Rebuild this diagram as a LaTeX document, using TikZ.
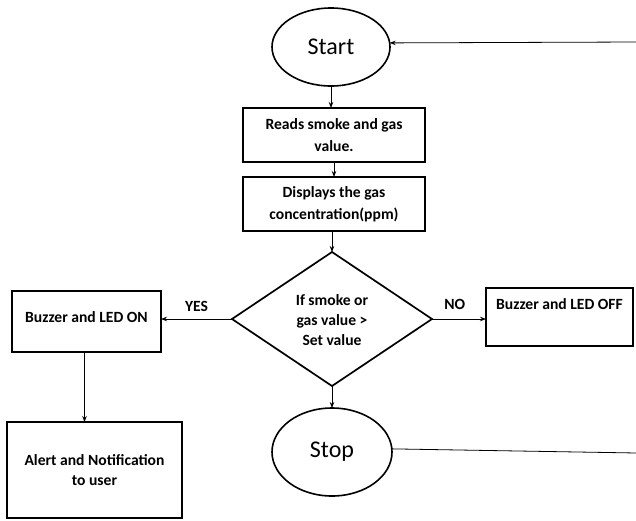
\documentclass[tikz,border=0pt]{standalone}
\usepackage{fontspec}
\setmainfont{Carlito}
\usetikzlibrary{shapes.geometric,arrows.meta}
\begin{document}
\begin{tikzpicture}[x=1pt,y=-1pt,
 every node/.style={inner sep=0pt, outer sep=0pt},
 term/.style={ellipse, draw, line width=1.6pt, font=\fontsize{24}{28}\selectfont},
 proc/.style={rectangle, draw, line width=1.7pt, align=center, font=\bfseries\fontsize{15.6}{22}\selectfont},
 decbox/.style={diamond, draw, line width=1.7pt},
 arr/.style={-{Stealth[length=6pt,width=4.5pt]}, line width=0.8pt},
 lbl/.style={font=\bfseries\fontsize{15.6}{18}\selectfont}
]
\useasboundingbox (0,0) rectangle (636,520);
\node[term, minimum width=118pt, minimum height=78pt] (start) at (331,47) {Start};
\node[proc, minimum width=182pt, minimum height=54pt] (reads) at (334,135) {Reads smoke and gas\\value.};
\node[proc, minimum width=182pt, minimum height=54pt] (disp) at (334,204) {Displays the gas\\concentration(ppm)};
\node[decbox, minimum width=200pt, minimum height=134pt] (dec) at (332,319) {};
\node[align=center, font=\bfseries\fontsize{15.6}{20}\selectfont] (dect) at (332,320) {If smoke or\\gas value >\\Set value};
\node[proc, anchor=north west, minimum width=149pt, text height=31pt, text depth=30pt] (on) at (12,291) {Buzzer and LED ON};
\node[proc, anchor=north west, minimum width=147pt, text height=21pt, text depth=37pt] (off) at (486,288) {Buzzer and LED OFF};
\node[proc, anchor=north west, minimum width=175pt, minimum height=96pt, font=\bfseries\fontsize{15.6}{20}\selectfont] (alert) at (7,422) {Alert and Notification\\to user};
\node[term, minimum width=120pt, minimum height=88pt] (stop) at (332,452) {Stop};
\coordinate (re1) at (637,453);
\coordinate (re2) at (637,42);

\draw[arr] (start.south) -- (start.south |- reads.north);
\draw[arr] (reads.south) -- (disp.north);
\draw[arr] (dec.north |- disp.south) -- (dec.north);
\draw[arr] (dec.west) -- (dec.west -| on.east) node[lbl, midway, above=7pt] {YES};
\draw[arr] (dec.east) -- (dec.east -| off.west) node[lbl, pos=0.42, above=9pt] {NO};
\draw[arr] (dec.south) -- (stop.north);
\draw[arr] ([xshift=-2pt]on.south) -- ([xshift=-2pt]on.south |- alert.north);
\draw[line width=0.8pt] (stop.3) -- (re1);
\draw[arr] (re2) -- (start.4);
\end{tikzpicture}
\end{document}
